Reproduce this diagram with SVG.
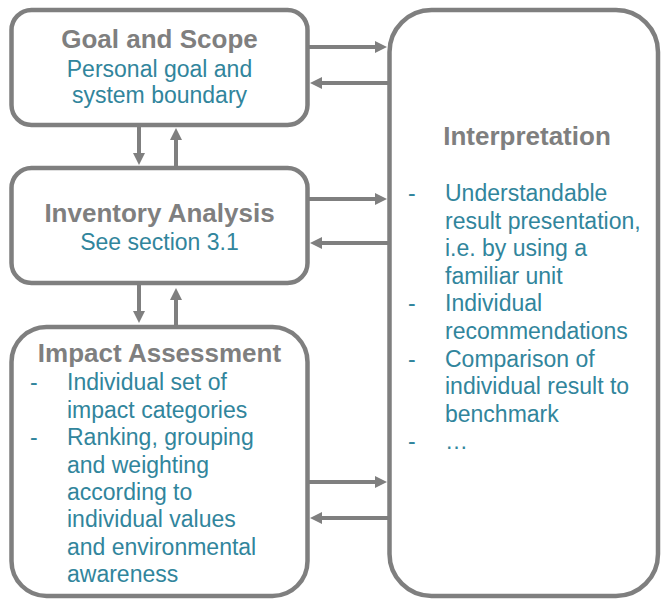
<svg xmlns="http://www.w3.org/2000/svg" width="662" height="600" viewBox="0 0 662 600">
  <style>
    .box { fill: #ffffff; stroke: #7f7f7f; stroke-width: 4.5; }
    .title { font-family: "Liberation Sans", Arial, sans-serif; font-size: 26px; font-weight: bold; fill: #7f7f7f; }
    .body { font-family: "Liberation Sans", Arial, sans-serif; font-size: 23px; fill: #31859c; }
    .link { stroke: #7f7f7f; stroke-width: 4; fill: none; marker-end: url(#head); }
  </style>
  <defs>
    <marker id="head" markerUnits="userSpaceOnUse" markerWidth="12" markerHeight="12" refX="6" refY="6" orient="auto">
      <path d="M0,0 L12,6 L0,12 z" fill="#7f7f7f"/>
    </marker>
  </defs>
  <rect width="662" height="600" fill="#ffffff"/>

  <g id="connectors">
    <!-- Goal and Scope <-> Interpretation -->
    <line class="link" x1="309" y1="47" x2="381" y2="47"/>
    <line class="link" x1="388" y1="83" x2="316" y2="83"/>
    <!-- Inventory Analysis <-> Interpretation -->
    <line class="link" x1="309" y1="199" x2="381" y2="199"/>
    <line class="link" x1="388" y1="243" x2="316" y2="243"/>
    <!-- Impact Assessment <-> Interpretation -->
    <line class="link" x1="309" y1="482" x2="381" y2="482"/>
    <line class="link" x1="388" y1="518" x2="316" y2="518"/>
    <!-- Goal and Scope <-> Inventory Analysis -->
    <line class="link" x1="139" y1="127" x2="139" y2="159"/>
    <line class="link" x1="176" y1="166" x2="176" y2="134"/>
    <!-- Inventory Analysis <-> Impact Assessment -->
    <line class="link" x1="139" y1="285" x2="139" y2="317"/>
    <line class="link" x1="176" y1="325" x2="176" y2="294"/>
  </g>

  <g id="goal-scope">
    <rect class="box" x="11.5" y="10" width="296" height="115" rx="20" ry="20"/>
    <text class="title" x="159.5" y="48" text-anchor="middle">Goal and Scope</text>
    <text class="body" x="159.5" y="76.5" text-anchor="middle">Personal goal and</text>
    <text class="body" x="159.5" y="103" text-anchor="middle">system boundary</text>
  </g>

  <g id="inventory-analysis">
    <rect class="box" x="11.5" y="168" width="296" height="115" rx="20" ry="20"/>
    <text class="title" x="159.5" y="222" text-anchor="middle">Inventory Analysis</text>
    <text class="body" x="159.5" y="250" text-anchor="middle">See section 3.1</text>
  </g>

  <g id="impact-assessment">
    <rect class="box" x="11.5" y="327" width="296" height="269" rx="35" ry="35"/>
    <text class="title" x="159.5" y="362" text-anchor="middle">Impact Assessment</text>
    <text class="body">
      <tspan x="30" y="390">-</tspan><tspan x="67" y="390">Individual set of</tspan>
      <tspan x="67" y="417.5">impact categories</tspan>
      <tspan x="30" y="445">-</tspan><tspan x="67" y="445">Ranking, grouping</tspan>
      <tspan x="67" y="472.5">and weighting</tspan>
      <tspan x="67" y="500">according to</tspan>
      <tspan x="67" y="527">individual values</tspan>
      <tspan x="67" y="555">and environmental</tspan>
      <tspan x="67" y="582">awareness</tspan>
    </text>
  </g>

  <g id="interpretation">
    <rect class="box" x="389.5" y="10" width="268.5" height="586" rx="42" ry="42"/>
    <text class="title" x="527" y="145" text-anchor="middle">Interpretation</text>
    <text class="body">
      <tspan x="408" y="201">-</tspan><tspan x="445" y="201">Understandable</tspan>
      <tspan x="445" y="228.6">result presentation,</tspan>
      <tspan x="445" y="256.2">i.e. by using a</tspan>
      <tspan x="445" y="283.8">familiar unit</tspan>
      <tspan x="408" y="311.4">-</tspan><tspan x="445" y="311.4">Individual</tspan>
      <tspan x="445" y="339">recommendations</tspan>
      <tspan x="408" y="366.6">-</tspan><tspan x="445" y="366.6">Comparison of</tspan>
      <tspan x="445" y="394.2">individual result to</tspan>
      <tspan x="445" y="421.8">benchmark</tspan>
      <tspan x="408" y="449.4">-</tspan><tspan x="445" y="449.4">…</tspan>
    </text>
  </g>
</svg>
